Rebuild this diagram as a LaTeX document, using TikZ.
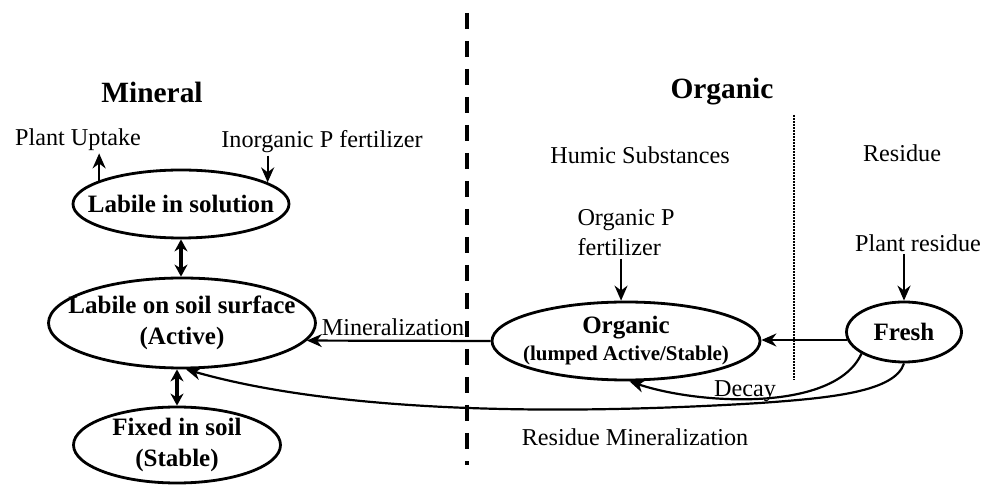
\documentclass[tikz,border=0pt]{standalone}
\usepackage{fontspec}
\setmainfont{Liberation Serif}
\usetikzlibrary{arrows.meta,shapes.geometric}

\tikzset{
	pool/.style={draw, ellipse, line width=1.4pt, inner sep=0pt},
	pooltext/.style={align=center, inner sep=0pt, font=\fontsize{12.5}{15.5}\selectfont\bfseries},
	flow/.style={-{Stealth[length=7.5pt,width=6.5pt]}, line width=1.1pt},
	swap/.style={{Stealth[length=6pt,width=6.5pt]}-{Stealth[length=6pt,width=6.5pt]}, line width=1.6pt},
	lbl/.style={inner sep=1pt, font=\fontsize{12.1}{15}\selectfont},
	head/.style={inner sep=1pt, font=\fontsize{14.7}{17}\selectfont\bfseries}
}

\begin{document}
\begin{tikzpicture}[x=0.5pt, y=-0.5pt]
	\useasboundingbox (0,0) rectangle (989,485);
		% mineral / organic divide
		\draw [line width=2pt, dash pattern=on 8pt off 6pt] (467,13) -- (467,465);
		\draw [line width=0.9pt, dash pattern=on 0.8pt off 0.7pt] (794,115) -- (794,380);

		\node [head] (mineral) at (152,92) {Mineral};
		\node [head] (organic) at (722,92) {Organic};
		\node [lbl] (humic) at (640,155) {Humic Substances};
		\node [lbl] (residue) at (902,153) {Residue};
		\node [lbl] (uptake) at (78,140) {Plant Uptake};
		\node [lbl] (inorg) at (322,142) {Inorganic P fertilizer};
		\node [lbl, align=left] (orgfert) at (626,233) {Organic P\\fertilizer};
		\node [lbl] (plantres) at (918,243) {Plant residue};

		% pools
		\node [pool, minimum width=108pt, minimum height=34pt] (solution) at (181,204) {};
		\node [pooltext] (solution-t) at (solution) {Labile in solution};
		\node [pool, minimum width=133.5pt, minimum height=45pt] (surface) at (182,323) {};
		\node [pooltext] (surface-t) at (surface) {Labile on soil surface\\(Active)};
		\node [pool, minimum width=103.5pt, minimum height=38pt] (fixed) at (177,445) {};
		\node [pooltext] (fixed-t) at (fixed) {Fixed in soil\\(Stable)};
		\node [pool, minimum width=134pt, minimum height=39pt] (orgpool) at (626,341) {};
		\node [pooltext, font=\fontsize{12.5}{13.5}\selectfont\bfseries] (orgpool-t) at (orgpool) {Organic\\{\fontsize{10.5}{12}\selectfont(lumped Active/Stable)}};
		\node [pool, minimum width=57.5pt, minimum height=30pt] (fresh) at (904,332) {};
		\node [pooltext] (fresh-t) at (fresh) {Fresh};

		% flows
		\draw [flow] (solution.164) -- (solution.164 |- uptake.south);
		\draw [flow] (inorg.south -| solution.14) -- (solution.14);
		\draw [swap] (solution.south) -- (solution.south |- surface.north);
		\draw [swap] (fixed.north |- surface.south) -- (fixed.north);
		\draw [flow] (orgfert.south -| orgpool.97) -- (orgpool.97);
		\draw [flow] (plantres.south -| fresh.north) -- (fresh.north);
		\draw [flow] (fresh.188) -- (orgpool.east |- fresh.188);
		\draw [flow] (orgpool.west) -- (surface.-8);
		\draw [flow] (fresh.207) .. controls (835,412) and (700,405) .. (orgpool.-85);
		\draw [flow] (fresh.south) .. controls (895,392) and (830,398) .. (760,403)
			.. controls (480,420) and (300,402) .. (surface.-85);

		\node [lbl] (minlbl) at (393,327) {Mineralization};
		\node [lbl] (decay) at (745,391) {Decay};
		\node [lbl] (resmin) at (635,437) {Residue Mineralization};
	\end{tikzpicture}
\end{document}
